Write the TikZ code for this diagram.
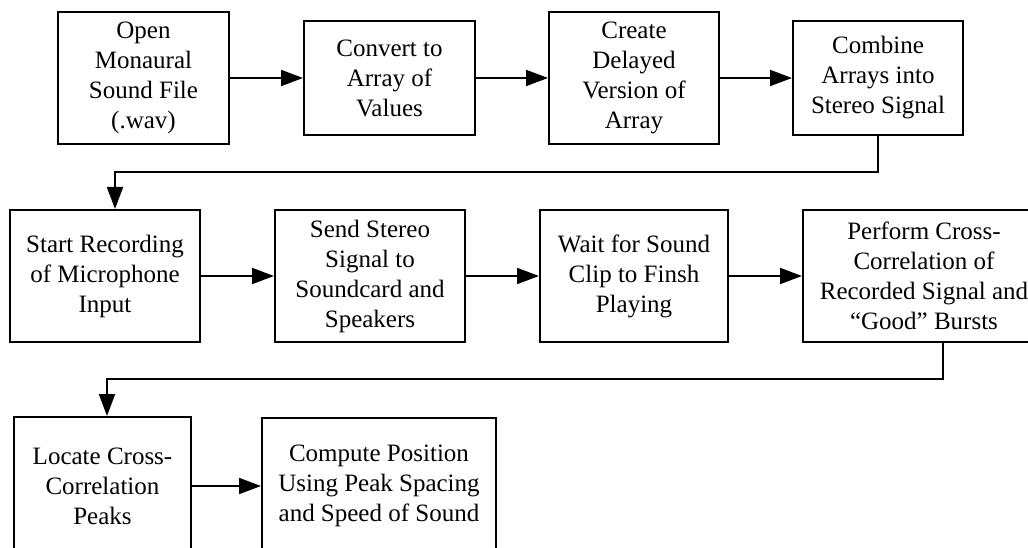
\documentclass[tikz,border=0pt]{standalone}
\usepackage{fontspec}
\setmainfont{Liberation Serif}
\usetikzlibrary{arrows.meta}
\begin{document}
\begin{tikzpicture}[x=1pt, y=-1pt,
    block/.style={draw, line width=2pt, align=center, inner sep=0pt,
        font=\fontsize{25}{30}\selectfont},
    >={Triangle[length=22pt, width=16pt]}]
    \clip (0,0) rectangle (1028,548);

    \node[block, minimum width=171pt, minimum height=132pt] (open) at (143.5, 78) {Open\\Monaural\\Sound File\\(.wav)};
    \node[block, minimum width=171pt, minimum height=114pt] (convert) at (389.5, 78) {Convert to\\Array of\\Values};
    \node[block, minimum width=170pt, minimum height=132pt] (delay) at (634, 78) {Create\\Delayed\\Version of\\Array};
    \node[block, minimum width=170pt, minimum height=114pt] (combine) at (878, 78) {Combine\\Arrays into\\Stereo Signal};

    \node[block, minimum width=190pt, minimum height=132pt] (record) at (105, 276) {Start Recording\\of Microphone\\Input};
    \node[block, minimum width=190pt, minimum height=132pt] (send) at (370, 276) {Send Stereo\\Signal to\\Soundcard and\\Speakers};
    \node[block, minimum width=188pt, minimum height=132pt] (wait) at (634, 276) {Wait for Sound\\Clip to Finsh\\Playing};
    \node[block, minimum width=242pt, minimum height=132pt] (xcorr) at (924, 276) {Perform Cross-\\Correlation of\\Recorded Signal and\\``Good'' Bursts};

    \node[block, minimum width=177pt, minimum height=138pt] (locate) at (102.5, 486) {Locate Cross-\\Correlation\\Peaks};
    \node[block, minimum width=234pt, minimum height=136pt] (compute) at (379, 486) {Compute Position\\Using Peak Spacing\\and Speed of Sound};

    \coordinate (turn1) at (115, 172);
    \coordinate (turn2) at (107, 379);

    \begin{scope}[every path/.style={->, line width=2pt}]
       \draw (open) -- (convert);
       \draw (convert) -- (delay);
       \draw (delay) -- (combine);
       \draw (combine.south) |- (turn1) -- (turn1 |- record.north);

       \draw (record) -- (send);
       \draw (send) -- (wait);
       \draw (wait) -- (xcorr);
       \draw ([xshift=19pt]xcorr.south) |- (turn2) -- (turn2 |- locate.north);

       \draw (locate) -- (compute);
    \end{scope}
\end{tikzpicture}
\end{document}
